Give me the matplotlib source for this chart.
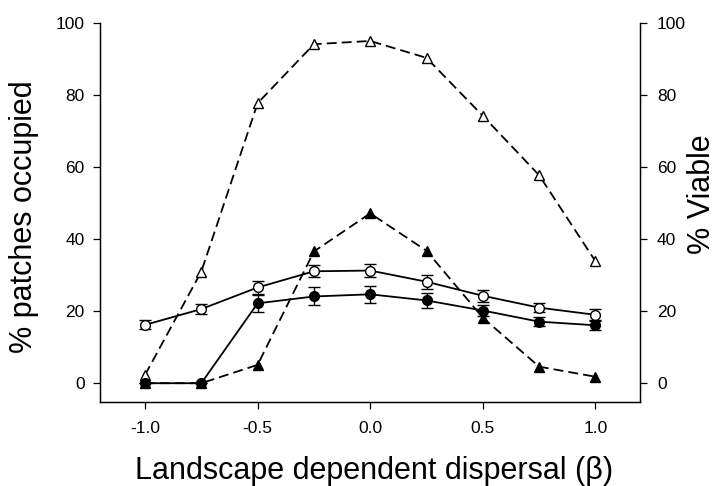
import matplotlib
matplotlib.use("Agg")
import matplotlib.pyplot as plt
import numpy as np

plt.rcParams['font.family'] = ['Liberation Sans', 'DejaVu Sans']

beta = [-1.0, -0.75, -0.5, -0.25, 0.0, 0.25, 0.5, 0.75, 1.0]

# % patches occupied (left axis)
occ_open = [16.2, 20.6, 26.6, 31.1, 31.3, 28.2, 24.3, 21.0, 19.0]
occ_open_err = [1.25, 1.3, 1.8, 1.7, 1.9, 1.9, 1.6, 1.25, 1.5]
occ_filled = [0.0, 0.0, 22.2, 24.1, 24.7, 23.0, 20.2, 17.1, 16.1]
occ_filled_err = [0.0, 0.0, 2.3, 2.5, 2.4, 2.2, 1.5, 1.3, 1.25]

# % viable (right axis)
viable_open = [2.3, 31.0, 77.8, 94.2, 95.1, 90.4, 74.3, 57.8, 33.9]
viable_filled = [0.0, 0.0, 5.1, 36.6, 47.2, 36.8, 18.2, 4.6, 1.8]

xticks = [-1.0, -0.5, 0.0, 0.5, 1.0]
yticks = [0, 20, 40, 60, 80, 100]

fig = plt.figure(figsize=(7.14, 4.86), dpi=100)
ax = fig.add_axes([0.140, 0.173, 0.757, 0.779])
ax2 = ax.twinx()

dash = (0, (5.5, 2.8))
lw = 1.3
ax2.plot(beta, viable_open, color='black', lw=lw, linestyle=dash,
         marker='^', ms=7, mfc='white', mec='black', mew=1.0, zorder=2)
ax2.plot(beta, viable_filled, color='black', lw=lw, linestyle=dash,
         marker='^', ms=7, mfc='black', mec='black', mew=1.0, zorder=2)

ax.set_zorder(ax2.get_zorder() + 1)
ax.patch.set_visible(False)

ax.errorbar(beta, occ_open, yerr=occ_open_err, color='black', lw=lw,
            marker='o', ms=7, mfc='white', mec='black', mew=1.0,
            ecolor='black', elinewidth=1.0, capsize=4.3, capthick=1.0, zorder=3)
ax.errorbar(beta, occ_filled, yerr=occ_filled_err, color='black', lw=lw,
            marker='o', ms=7, mfc='black', mec='black', mew=1.0,
            ecolor='black', elinewidth=1.0, capsize=4.3, capthick=1.0, zorder=3)

for a in (ax, ax2):
    a.set_xlim(-1.2, 1.2)
    a.set_ylim(-5.2, 100)
    a.set_yticks(yticks)
    a.spines['top'].set_visible(False)
    a.tick_params(direction='out', length=5, width=0.9, labelsize=12.5, colors='black')
    for s in a.spines.values():
        s.set_linewidth(0.9)

ax.set_xticks(xticks)
ax.set_xticklabels([f"{v:.1f}" for v in xticks])
ax.tick_params(axis='x', pad=9)
ax.tick_params(axis='y', pad=6)
ax2.tick_params(axis='y', pad=7)

fig.text(374.5 / 714, 7 / 486, "Landscape dependent dispersal (\u03b2)",
         fontsize=22, ha='center', va='baseline')
fig.text(24.5 / 714, (486 - 216.5) / 486, "% patches occupied",
         fontsize=22, ha='center', va='center', rotation=90)
fig.text(702 / 714, (486 - 194) / 486, "% Viable",
         fontsize=22, ha='center', va='center', rotation=90)

fig.savefig("out.png", dpi=100)
